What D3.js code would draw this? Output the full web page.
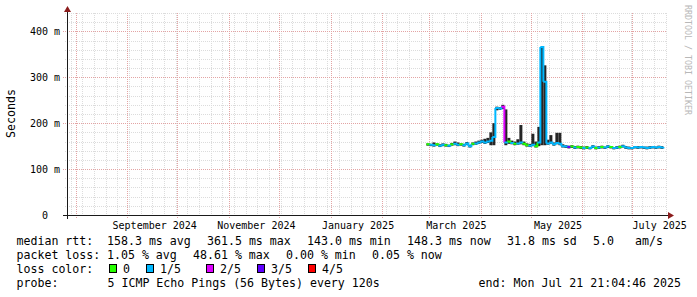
<!DOCTYPE html>
<html>
<head>
<meta charset="UTF-8">
<title>Smokeping - last 360 days</title>
<style>
  body { margin: 0; background: #fff; }
  svg { display: block; }
  text { font-family: 'DejaVu Sans Mono', monospace; fill: #000; }
  .grid-minor { stroke: #dcdcdc; stroke-width: 1; stroke-dasharray: 1,1; shape-rendering: crispEdges; }
  .grid-major { stroke: #e3a4a4; stroke-width: 1; stroke-dasharray: 1,1; shape-rendering: crispEdges; }
</style>
</head>
<body>
<svg id="chart" width="697" height="297"></svg>

<script src="https://cdn.jsdelivr.net/npm/d3@7"></script>
<script>

// ---- data ----
const endTime = new Date(2025, 6, 21, 21, 4, 46);
const rangeDays = 360;

// samples every 43.2 h, first one at 27 Feb 2025 12:00
const firstSample = new Date(2025, 1, 27, 12, 0, 0);
const sampleHours = 43.2;

// median rtt in ms
const median = [
  154, 153, 152, 154, 151, 153, 152, 151, 154, 155,
  153, 154, 152, 156, 150, 155, 156, 158, 160, 158,
  160, 162, 170, 233, 232, 236, 158, 160, 157, 155,
  156, 158, 155, 152, 151, 153, 150, 158, 366, 290,
  156, 158, 154, 157, 155, 150, 149, 148, 149, 147,
  148, 147, 146, 147, 146, 149, 146, 147, 148, 147,
  149, 148, 146, 147, 148, 150, 147, 146, 146, 148,
  147, 148, 147, 146, 147, 148, 147, 148, 147, 148
];
// slowest ping of the sample (top of the smoke), ms
const pingMax = [
  156, 155, 158, 156, 154, 156, 155, 153, 157, 160,
  158, 156, 155, 159, 153, 158, 160, 162, 164, 166,
  168, 180, 200, 236, 235, 240, 230, 168, 162, 160,
  165, 196, 160, 156, 155, 177, 160, 192, 366, 326,
  164, 174, 158, 179, 179, 154, 152, 151, 152, 150,
  151, 150, 149, 150, 148, 152, 149, 150, 151, 149,
  152, 150, 148, 150, 151, 153, 150, 149, 148, 150,
  150, 150, 149, 149, 150, 150, 149, 151, 150, 150
];
// fastest ping of the sample (bottom of the smoke), ms
const pingMin = [
  151, 150, 149, 151, 148, 150, 149, 148, 151, 152,
  150, 151, 149, 153, 147, 152, 153, 155, 157, 155,
  157, 152, 152, 228, 229, 231, 152, 155, 154, 152,
  153, 154, 152, 149, 148, 150, 147, 150, 152, 152,
  153, 155, 151, 154, 152, 147, 146, 145, 146, 144,
  145, 144, 143, 144, 143, 146, 143, 144, 145, 144,
  146, 145, 143, 144, 145, 147, 144, 143, 143, 145,
  144, 145, 144, 143, 144, 145, 144, 145, 144, 145
];
// lost pings out of 5
const lost = [
  0, 1, 1, 0, 1, 1, 0, 1, 0, 1,
  1, 0, 1, 1, 1, 0, 1, 1, 1, 1,
  1, 1, 1, 1, 1, 2, 1, 0, 1, 0,
  1, 1, 0, 0, 1, 1, 0, 1, 1, 1,
  1, 1, 1, 1, 1, 1, 1, 3, 0, 1,
  0, 0, 1, 0, 1, 1, 0, 1, 0, 1,
  1, 0, 1, 1, 0, 1, 1, 1, 1, 1,
  1, 1, 1, 1, 1, 1, 1, 1, 1, 1
];

const lossLabels = ["0", "1/5", "2/5", "3/5", "4/5"];
const lossColors = ["#26ff00", "#00b8ff", "#dd00ff", "#5e00ff", "#ff0000"];

const yTicks = [0, 100, 200, 300, 400];
const yTickLabels = ["0", "100 m", "200 m", "300 m", "400 m"];

const xLabelMonths = [[2024, 8], [2024, 10], [2025, 0], [2025, 2], [2025, 4], [2025, 6]];
const xTickLabels = ["September 2024", "November 2024", "January 2025", "March 2025", "May 2025", "July 2025"];

const rttStats = ["158.3", "361.5", "143.0", "148.3", "31.8", "5.0"];
const lossStats = ["1.05", "48.61", "0.00", "0.05"];

// ---- layout ----
const X0 = 67, X1 = 667, Y0 = 215, Y1 = 13;
const svg = d3.select("#chart");

const startTime = d3.timeDay.offset(endTime, -rangeDays);
const x = d3.scaleTime().domain([startTime, endTime]).range([X0, X1]);
const y = d3.scaleLinear().domain([0, 440]).range([Y0, Y1]);

const times = median.map((d, i) => d3.timeMinute.offset(firstSample, Math.round(i * sampleHours * 60)));

// grid: minor horizontal every 20 ms, weekly verticals
const grid = svg.append("g");
grid.selectAll(".hmin")
  .data(d3.range(0, 441, 20).filter(v => v % 100 !== 0))
  .enter().append("line")
  .attr("class", "grid-minor")
  .attr("x1", X0 - 2).attr("x2", X1)
  .attr("y1", d => Math.round(y(d)) + 0.5).attr("y2", d => Math.round(y(d)) + 0.5);

grid.selectAll(".vmin")
  .data(d3.timeMonday.range(startTime, endTime))
  .enter().append("line")
  .attr("class", "grid-minor")
  .attr("x1", d => Math.round(x(d)) + 0.5).attr("x2", d => Math.round(x(d)) + 0.5)
  .attr("y1", Y1).attr("y2", Y0 + 2);

grid.selectAll(".hmaj")
  .data(yTicks.filter(v => v > 0))
  .enter().append("line")
  .attr("class", "grid-major")
  .attr("x1", X0 - 4).attr("x2", X1)
  .attr("y1", d => Math.round(y(d)) + 0.5).attr("y2", d => Math.round(y(d)) + 0.5);

grid.selectAll(".vmaj")
  .data(d3.timeMonth.range(startTime, endTime))
  .enter().append("line")
  .attr("class", "grid-major")
  .attr("x1", d => Math.round(x(d)) + 0.5).attr("x2", d => Math.round(x(d)) + 0.5)
  .attr("y1", Y1).attr("y2", Y0 + 4);

// smoke: spread between fastest and slowest ping
const smoke = svg.append("g");
median.forEach((m, i) => {
  if (i === median.length - 1) return;
  smoke.append("rect")
    .attr("x", x(times[i]))
    .attr("width", x(times[i + 1]) - x(times[i]))
    .attr("y", y(pingMax[i]))
    .attr("height", Math.max(0, y(pingMin[i]) - y(pingMax[i])))
    .attr("fill", "#262626");
});

// median line, coloured by loss
const seg = d3.line().x(d => x(d[0])).y(d => y(d[1])).curve(d3.curveStepAfter);
const medLine = svg.append("g");
for (let i = 0; i < median.length - 1; i++) {
  medLine.append("path")
    .attr("d", seg([[times[i], median[i]], [times[i + 1], median[i + 1]]]))
    .attr("fill", "none")
    .attr("stroke", lossColors[lost[i]])
    .attr("stroke-width", 2);
}

// axes
svg.append("line").attr("x1", X0 - 4).attr("x2", X1 + 4)
  .attr("y1", Y0 + 0.5).attr("y2", Y0 + 0.5)
  .attr("stroke", "#1a1a1a").attr("shape-rendering", "crispEdges");
svg.append("line").attr("x1", X0 + 0.5).attr("x2", X0 + 0.5)
  .attr("y1", Y0 + 4).attr("y2", Y1 - 4)
  .attr("stroke", "#1a1a1a").attr("shape-rendering", "crispEdges");
svg.append("path")
  .attr("d", `M${X1 + 1},${Y0 - 3} L${X1 + 7},${Y0 + 0.5} L${X1 + 1},${Y0 + 4} Z`)
  .attr("fill", "#8b1c1c");
svg.append("path")
  .attr("d", `M${X0 - 3},${Y1 - 1} L${X0 + 0.5},${Y1 - 7} L${X0 + 4},${Y1 - 1} Z`)
  .attr("fill", "#8b1c1c");

// y labels
svg.selectAll(".ylab")
  .data(yTicks)
  .enter().append("text")
  .attr("x", 45)
  .attr("y", d => y(d) + 3.5)
  .attr("text-anchor", "middle")
  .style("font-size", "10px")
  .text((d, i) => yTickLabels[i]);

// x labels, centred half a month in
svg.selectAll(".xlab")
  .data(xLabelMonths)
  .enter().append("text")
  .attr("x", d => x(d3.timeHour.offset(new Date(d[0], d[1], 1), 396)))
  .attr("y", 229)
  .attr("text-anchor", "middle")
  .style("font-size", "10px")
  .text((d, i) => xTickLabels[i]);

// vertical unit label
svg.append("text")
  .attr("transform", "translate(15,113.5) rotate(-90)")
  .attr("text-anchor", "middle")
  .style("font-size", "11.6px")
  .text("Seconds");

// watermark
svg.append("text")
  .attr("transform", "translate(685,5) rotate(90)")
  .attr("textLength", 110)
  .style("font-size", "8.3px")
  .style("fill", "#b8b8b8")
  .text("RRDTOOL / TOBI OETIKER");

// legend
const legend = svg.append("g").style("font-size", "11.6px");
function item(txt, px, py) {
  legend.append("text").attr("x", px).attr("y", py)
    .attr("xml:space", "preserve").text(txt);
}
const L1 = 245, L2 = 259, L3 = 273, L4 = 287;
item("median rtt:", 16.5, L1);
item(rttStats[0] + " ms avg", 107, L1);
item(rttStats[1] + " ms max", 207, L1);
item(rttStats[2] + " ms min", 307, L1);
item(rttStats[3] + " ms now", 407, L1);
item(rttStats[4] + " ms sd", 507, L1);
item(rttStats[5], 593, L1);
item("am/s", 635, L1);

item("packet loss:", 16.5, L2);
item(lossStats[0] + " % avg", 107, L2);
item(lossStats[1] + " % max", 193, L2);
item(lossStats[2] + " % min", 286, L2);
item(lossStats[3] + " % now", 372, L2);

item("loss color:", 16.5, L3);
const boxX = [109, 146, 206, 257, 308];
lossLabels.forEach((lab, i) => {
  legend.append("rect")
    .attr("x", boxX[i] + 0.5).attr("y", L3 - 8.5)
    .attr("width", 7).attr("height", 8)
    .attr("fill", lossColors[i])
    .attr("stroke", "#000").attr("stroke-width", 1);
  item(lab, boxX[i] + 14, L3);
});

item("probe:", 16.5, L4);
item("5 ICMP Echo Pings (56 Bytes) every 120s", 107.5, L4);
legend.append("text").attr("x", 681).attr("y", L4)
  .attr("text-anchor", "end")
  .text("end: Mon Jul 21 21:04:46 2025");

</script>
</body>
</html>
